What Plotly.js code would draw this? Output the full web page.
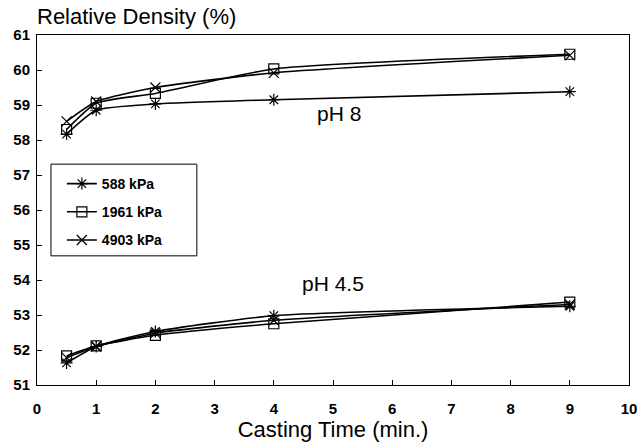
<!DOCTYPE html>
<html>
<head>
<meta charset="utf-8">
<script src="https://cdn.plot.ly/plotly-3.0.1.min.js"></script>
<style>html,body{margin:0;padding:0;background:#fff;}#chart{width:637px;height:448px;}</style>
</head>
<body>
<div id="chart"></div>
<script>
const times = [0.5, 1, 2, 4, 9];
const seriesNames = ['588 kPa', '1961 kPa', '4903 kPa'];
const ph8_588 = [58.17, 58.85, 59.03, 59.15, 59.38];
const ph8_1961 = [58.3, 59.05, 59.33, 60.03, 60.45];
const ph8_4903 = [58.53, 59.1, 59.5, 59.92, 60.42];
const ph45_588 = [51.63, 52.1, 52.53, 52.98, 53.25];
const ph45_1961 = [51.83, 52.12, 52.42, 52.75, 53.37];
const ph45_4903 = [51.78, 52.1, 52.48, 52.85, 53.3];
const symbols = ['asterisk-open', 'square-open', 'x-thin-open'];
const xTicks = [0,1,2,3,4,5,6,7,8,9,10];
const yTicks = [51,52,53,54,55,56,57,58,59,60,61];

const ph8 = [ph8_588, ph8_1961, ph8_4903];
const ph45 = [ph45_588, ph45_1961, ph45_4903];
const traces = [];
for (let i = 0; i < 3; i++) {
  [ph8[i], ph45[i]].forEach((ys, j) => {
    traces.push({
      x: times, y: ys, type: 'scatter', mode: 'lines+markers',
      name: seriesNames[i], legendgroup: seriesNames[i], showlegend: j === 0,
      line: {color: '#000', width: 1.6, shape: 'spline', smoothing: 0.55},
      marker: {symbol: symbols[i], size: 10, color: '#000', line: {color: '#000', width: 1.2}}
    });
  });
}

const layout = {
  width: 637, height: 448,
  margin: {l: 37, r: 8, t: 35, b: 63},
  paper_bgcolor: '#fff', plot_bgcolor: '#fff',
  font: {family: 'Liberation Sans, Arial, sans-serif', color: '#000'},
  showlegend: true,
  legend: {x: 0.042, y: 0.62, xanchor: 'left', yanchor: 'top',
    borderwidth: 0, bgcolor: 'rgba(0,0,0,0)',
    font: {size: 14, family: 'Liberation Sans, Arial, sans-serif', weight: 'bold'},
    tracegroupgap: 7},
  shapes: [
    {type: 'rect', xref: 'paper', yref: 'paper', x0: 0.0236, x1: 0.27, y0: 0.369, y1: 0.631,
     line: {color: '#000', width: 1}, fillcolor: 'rgba(0,0,0,0)', layer: 'above'}
  ],
  xaxis: {range: [0, 10], tickvals: xTicks, ticktext: xTicks.map(String),
    showgrid: false, zeroline: false, showline: true, mirror: true, linecolor: '#000', linewidth: 1,
    ticks: 'inside', ticklen: 5, tickcolor: '#000', ticklabelstandoff: 10,
    ticklabeloverflow: 'allow',
    tickfont: {size: 15, weight: 'bold'},
    title: {text: 'Casting Time (min.)', font: {size: 22}, standoff: 5}},
  yaxis: {range: [51, 61], tickvals: yTicks, ticktext: yTicks.map(String),
    showgrid: false, zeroline: false, showline: true, mirror: true, linecolor: '#000', linewidth: 1,
    ticks: 'inside', ticklen: 5, tickcolor: '#000', ticklabelstandoff: 3,
    ticklabeloverflow: 'allow',
    tickfont: {size: 15, weight: 'bold'}},
  annotations: [
    {xref: 'paper', yref: 'paper', x: -0.003, y: 1.0, xanchor: 'left', yanchor: 'bottom', yshift: 4,
     text: 'Relative Density (%)', showarrow: false, font: {size: 22}},
    {x: 5.1, y: 58.75, text: 'pH 8', showarrow: false, font: {size: 21}},
    {x: 5.0, y: 53.9, text: 'pH 4.5', showarrow: false, font: {size: 21}}
  ]
};
Plotly.newPlot('chart', traces, layout, {displayModeBar: false, staticPlot: true});
</script>
</body>
</html>
